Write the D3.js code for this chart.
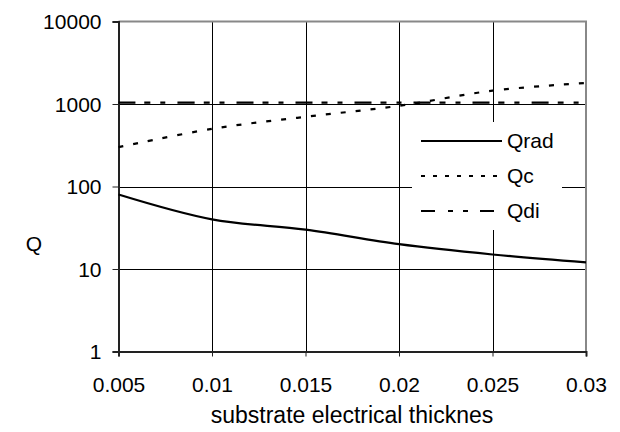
<!DOCTYPE html>
<html>
<head>
<meta charset="utf-8">
<script src="https://cdn.jsdelivr.net/npm/d3@7"></script>
<style>
  body { margin: 0; background: #fff; }
  text { font-family: "Liberation Sans", Arial, sans-serif; fill: #000; }
</style>
</head>
<body>
<svg id="chart" width="620" height="432"></svg>
<script>
// Data
const thickness = [0.005, 0.01, 0.015, 0.02, 0.025, 0.03];
const qrad = [80, 40, 30, 20, 15, 12];
const qc = [300, 500, 700, 950, 1450, 1800];
const qdi = [1040, 1040, 1040, 1040, 1040, 1040];
const xTicks = [0.005, 0.01, 0.015, 0.02, 0.025, 0.03];
const yTicks = [1, 10, 100, 1000, 10000];

const series = [
  { name: 'Qrad', values: qrad },
  { name: 'Qc', values: qc },
  { name: 'Qdi', values: qdi },
];

// line styles per series (plot dashes, legend dashes)
const styles = {
  Qrad: { dash: null, legendDash: null },
  Qc: { dash: '5,10', legendDash: '4,8' },
  Qdi: { dash: '17,9,6,10,5,12', legendDash: '14,13,5,10,5,12' },
};

const svg = d3.select('#chart');
const plot = { left: 118.5, right: 586, top: 21.5, bottom: 351.5 };

const x = d3.scaleLinear()
  .domain([0.005, 0.03])
  .range([plot.left, plot.right]);

const y = d3.scaleLog()
  .domain([1, 10000])
  .range([plot.bottom, plot.top]);

// Grid lines
svg.append('g')
  .selectAll('line')
  .data(xTicks.slice(1, -1))
  .join('line')
    .attr('x1', d => Math.round(x(d)) + 0.5)
    .attr('x2', d => Math.round(x(d)) + 0.5)
    .attr('y1', plot.top)
    .attr('y2', plot.bottom)
    .attr('stroke', '#000')
    .attr('stroke-width', 1);

svg.append('g')
  .selectAll('line')
  .data(yTicks.slice(1, -1))
  .join('line')
    .attr('x1', plot.left)
    .attr('x2', plot.right)
    .attr('y1', d => Math.round(y(d)) + 0.5)
    .attr('y2', d => Math.round(y(d)) + 0.5)
    .attr('stroke', '#000')
    .attr('stroke-width', 1);

// Plot frame: grey top / right
svg.append('path')
  .attr('d', `M${plot.left},${plot.top}H${plot.right}V${plot.bottom}`)
  .attr('fill', 'none')
  .attr('stroke', '#888')
  .attr('stroke-width', 2);

// Axes
const xAxis = svg.append('g')
  .attr('transform', `translate(0,${plot.bottom})`)
  .call(d3.axisBottom(x).tickValues(xTicks).tickSize(5).tickFormat(d => String(d)));

const yAxis = svg.append('g')
  .attr('transform', `translate(${plot.left},0)`)
  .call(d3.axisLeft(y).tickValues(yTicks).tickSize(6).tickFormat(d => String(d)));

[xAxis, yAxis].forEach(a => {
  a.select('.domain').attr('stroke', '#222').attr('stroke-width', 2);
  a.selectAll('.tick line').attr('stroke', '#222').attr('stroke-width', 1);
  a.selectAll('.tick text')
    .style('font-family', '"Liberation Sans", Arial, sans-serif')
    .style('font-size', '21px')
    .attr('fill', '#000');
});
xAxis.selectAll('.tick text').attr('y', 0).attr('dy', 0).attr('transform', 'translate(0,40)');
yAxis.selectAll('.tick text').attr('x', -17).attr('dy', '0.35em');

// Lines
const line = d3.line()
  .x((d, i) => x(thickness[i]))
  .y(d => y(d))
  .curve(d3.curveCatmullRom.alpha(0.5));

svg.append('g')
  .selectAll('path')
  .data(series)
  .join('path')
    .attr('d', d => line(d.values))
    .attr('fill', 'none')
    .attr('stroke', '#000')
    .attr('stroke-width', 2.2)
    .attr('stroke-dasharray', d => styles[d.name].dash);

// Legend
const legend = svg.append('g').attr('transform', 'translate(412,122)');
legend.append('rect')
  .attr('width', 150)
  .attr('height', 108)
  .attr('fill', '#fff');

const item = legend.selectAll('.legend-item')
  .data(series)
  .join('g')
    .attr('class', 'legend-item')
    .attr('transform', (d, i) => `translate(0,${19 + i * 35})`);

item.append('line')
  .attr('x1', 9)
  .attr('x2', 90)
  .attr('stroke', '#000')
  .attr('stroke-width', 2.2)
  .attr('stroke-dasharray', d => styles[d.name].legendDash);

item.append('text')
  .attr('x', 95)
  .attr('dy', '0.35em')
  .style('font-size', '21px')
  .text(d => d.name);

// Axis titles
svg.append('text')
  .attr('x', 34)
  .attr('y', 244)
  .attr('dy', '0.35em')
  .attr('text-anchor', 'middle')
  .style('font-size', '21px')
  .text('Q');

svg.append('text')
  .attr('x', 352)
  .attr('y', 423)
  .attr('text-anchor', 'middle')
  .style('font-size', '23px')
  .text('substrate electrical thicknes');
</script>
</body>
</html>
